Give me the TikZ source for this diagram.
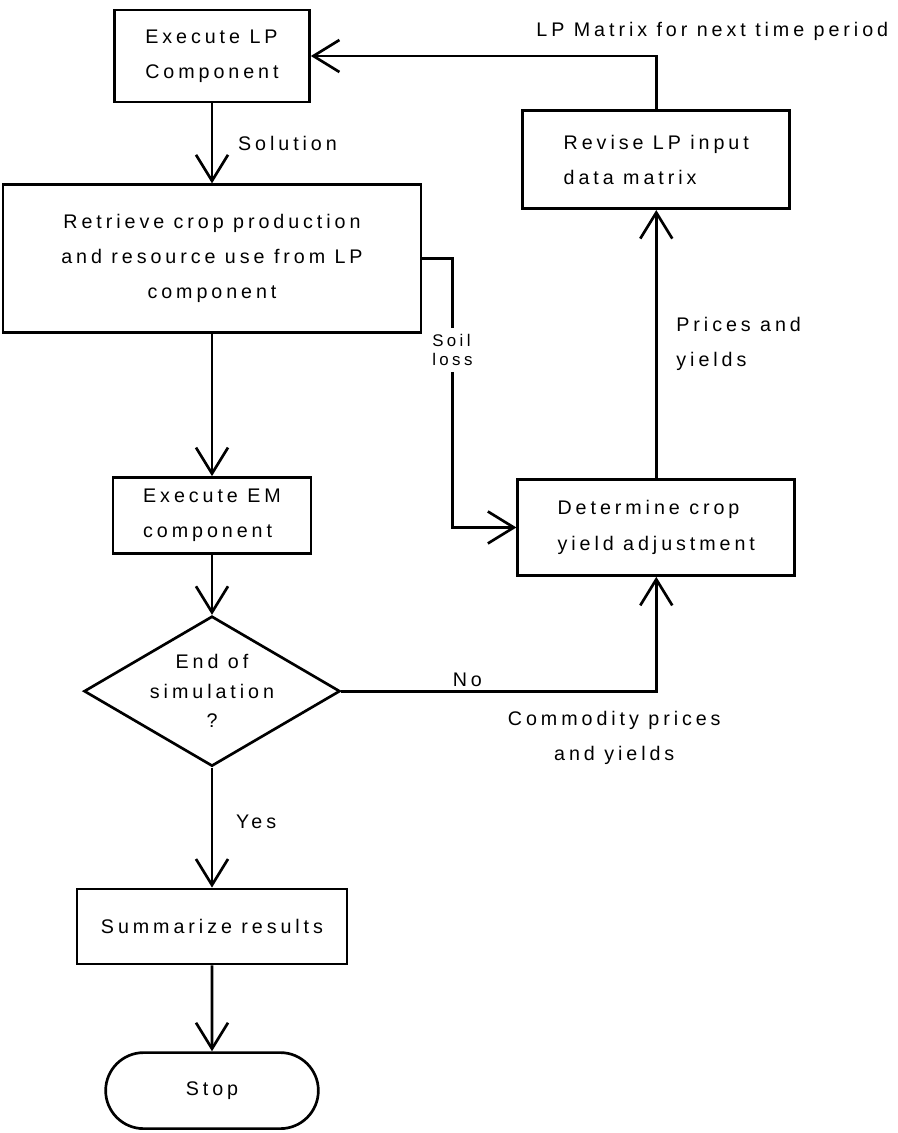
\documentclass[tikz,border=0pt]{standalone}
\usepackage{fontspec}
\setmainfont{Liberation Sans}[LetterSpace=20]
\usetikzlibrary{positioning}
\usetikzlibrary{shapes.geometric,shapes.misc}
\usetikzlibrary{arrows.meta}
\tikzset{node distance=2cm,
    >={Straight Barb[length=0.65cm,width=0.8cm]},
    box/.style={
        draw,
        line width=1.9pt,
        align=left,
        font=\fontsize{14}{25}\selectfont},
    decision/.style={
        draw, diamond, aspect=1.7,
        line width=1.9pt,
        inner sep=-2pt,
        align=center,
        font=\fontsize{14}{21}\selectfont},
    terminal/.style={
        draw, rounded rectangle,
        line width=1.9pt,
        font=\fontsize{14}{25}\selectfont},
    lbl/.style={
        inner sep=2pt,
        font=\fontsize{14}{25}\selectfont},
    flow/.style={
        ->,
        line width=1.9pt},
    every edge/.style={
        draw,
        ->,
        line width=1.9pt}}
\begin{document}
\begin{tikzpicture}[x=0.025cm,y=-0.025cm]
        \useasboundingbox (0,0) rectangle (897,1133);
        \node[box,minimum width=4.875cm,minimum height=2.3cm] (lp) at (212,56) {Execute LP\\Component};
        \node[box,align=center,minimum width=10.45cm,minimum height=3.7cm,below=2cm of lp] (retrieve) {Retrieve crop production\\and resource use from LP\\component};
        \node[box,minimum width=4.95cm,minimum height=1.9cm,below=3.55cm of retrieve] (em) {Execute EM\\component};
        \node[decision,minimum width=6.4cm,minimum height=3.75cm,below=1.5cm of em] (sim) {End of\\simulation\\?};
        \node[box,minimum width=6.75cm,minimum height=1.875cm,below=3cm of sim] (summary) {Summarize results};
        \node[terminal,minimum width=5.55cm,minimum height=1.9cm,below=2.15cm of summary] (stop) {Stop};
        \node[box,minimum width=6.925cm,minimum height=2.4cm,right=5.1cm of em,yshift=-0.3cm] (determine) {Determine crop\\yield adjustment};
        \node[box,minimum width=6.675cm,minimum height=2.45cm,above=6.7cm of determine] (revise) {Revise LP input\\data matrix};
        \node[lbl,font=\fontsize{12}{14}\selectfont,align=left,inner ysep=4pt,anchor=north] (soil) at ([xshift=0.75cm,yshift=0.15cm]retrieve.south east) {Soil\\loss};
        \node[lbl,above=1.65cm of revise.north,xshift=1.4cm] (nextlbl) {LP Matrix for next time period};

        \draw (lp) edge node[lbl,right=0.55cm] {Solution} (retrieve);
        \draw (retrieve) edge (em);
        \draw (em) edge (sim);
        \draw (sim) edge node[lbl,right=0.5cm,pos=0.45] {Yes} (summary);
        \draw (summary) edge (stop);
        \draw (determine) edge node[lbl,right=0.4cm,align=left] {Prices and\\yields} (revise);
        \draw[flow] (revise) |- (lp);
        \draw[line width=1.9pt] (retrieve) -| (soil);
        \draw[flow] (soil) |- (determine);
        \draw[flow] (sim) -| node[lbl,above,pos=0.2] {No}
            node[lbl,pos=0.5,anchor=north,xshift=-1.05cm,yshift=-0.4cm,align=center] {Commodity prices\\and yields} (determine);
    \end{tikzpicture}
\end{document}
